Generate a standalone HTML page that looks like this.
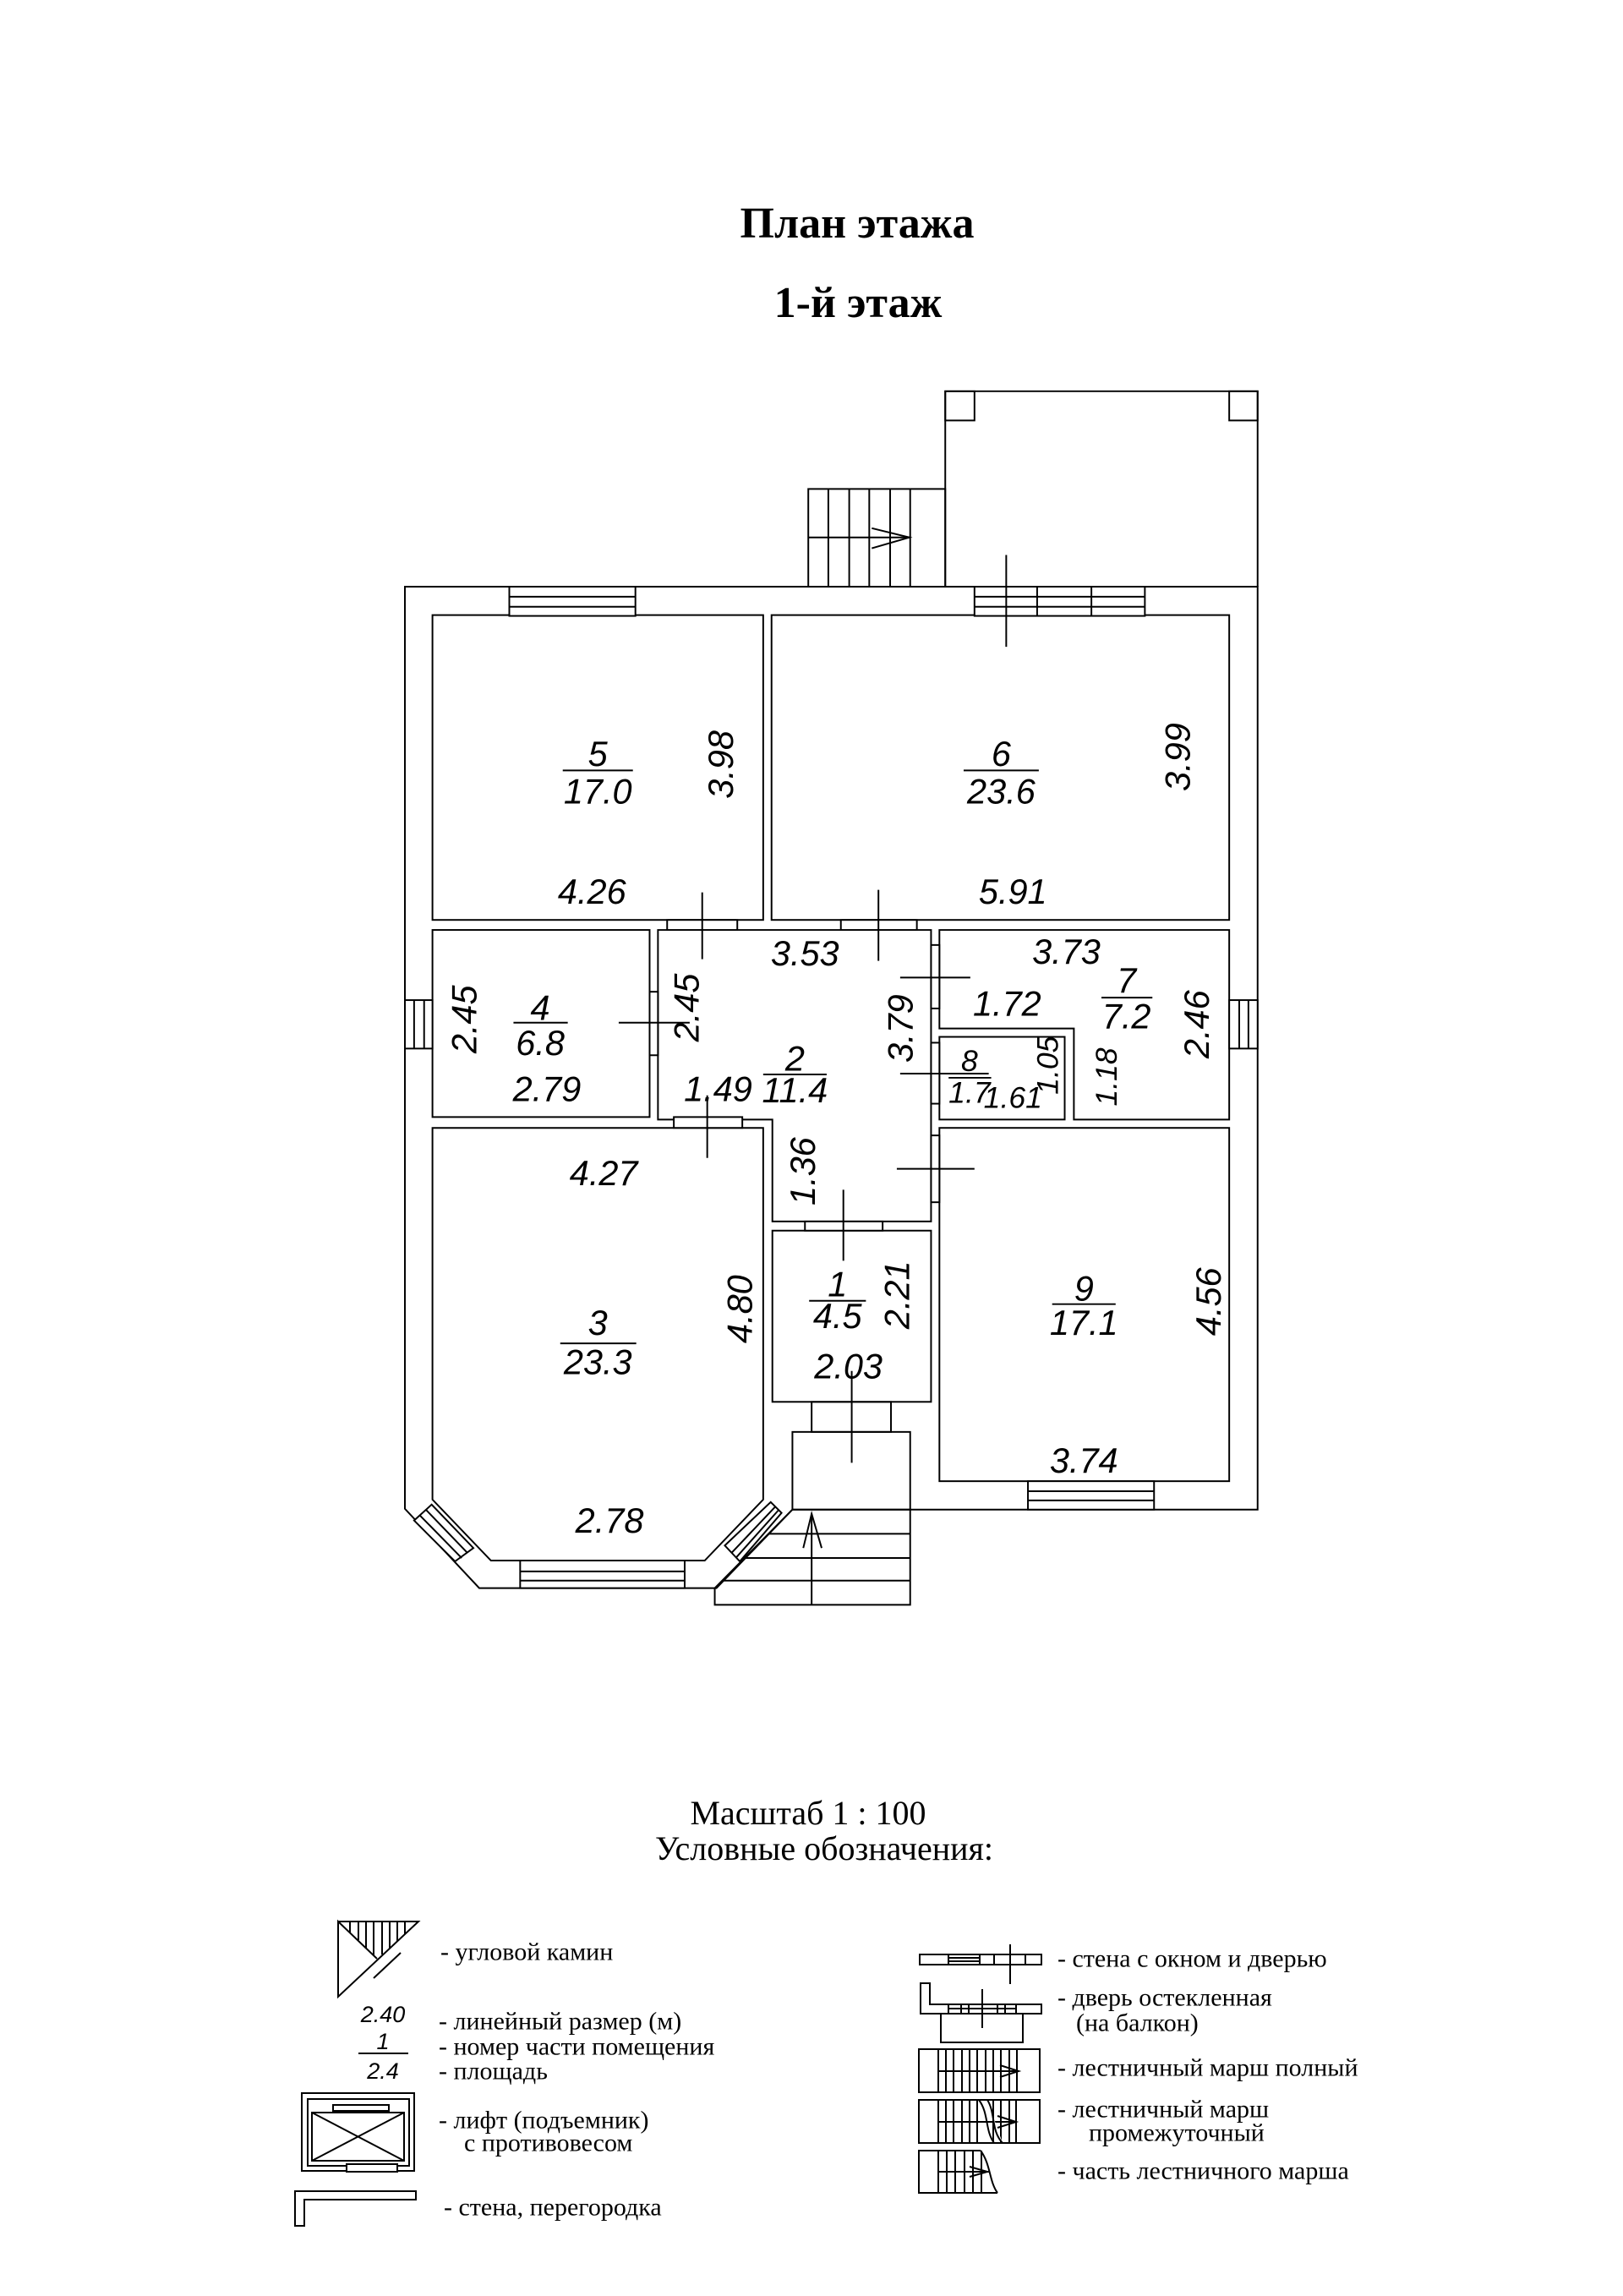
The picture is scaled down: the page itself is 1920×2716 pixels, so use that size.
<!DOCTYPE html>
<html><head><meta charset="utf-8"><style>
html,body{margin:0;padding:0;background:#fff}
svg{display:block}
.d{font-family:"Liberation Sans",sans-serif;font-style:italic;font-size:42px;fill:#000}
.s{font-family:"Liberation Sans",sans-serif;font-style:italic;font-size:27px;fill:#000}
.l{font-family:"Liberation Serif",serif;font-size:30px;fill:#000}
</style></head><body>
<svg width="1920" height="2716" viewBox="0 0 1920 2716" xmlns="http://www.w3.org/2000/svg">
<rect width="1920" height="2716" fill="#fff"/>
<g font-family="Liberation Serif, serif" font-weight="bold" font-size="52" text-anchor="middle">
<text x="1014" y="281">План этажа</text>
<text x="1015" y="375">1-й этаж</text>
</g>
<g transform="translate(479,694) scale(0.988 0.988) translate(-479,-694)">
<g fill="none" stroke="#000" stroke-width="2">
<polyline points="1126,694 1126,460 1500,460 1500,694"/>
<rect x="1126" y="460" width="35" height="35"/>
<rect x="1466" y="460" width="34" height="35"/>
<rect x="962" y="577" width="164" height="117"/>
<line x1="986" y1="577" x2="986" y2="694"/><line x1="1011" y1="577" x2="1011" y2="694"/>
<line x1="1035" y1="577" x2="1035" y2="694"/><line x1="1060" y1="577" x2="1060" y2="694"/>
<line x1="1084" y1="577" x2="1084" y2="694"/>
<line x1="962" y1="635" x2="1084" y2="635"/>
<polyline points="1038,624 1083,635 1038,648"/>
<polyline points="1084,1799 1500,1799 1500,694 479,694 479,1798 568,1893 852,1893 943,1799"/>
<rect x="512" y="728" width="396" height="365"/>
<rect x="918" y="728" width="548" height="365"/>
<rect x="512" y="1105" width="260" height="224"/>
<polygon points="782,1105 1109,1105 1109,1454 919,1454 919,1332 782,1332"/>
<polygon points="1119,1105 1466,1105 1466,1332 1280,1332 1280,1223 1119,1223"/>
<rect x="1119" y="1233" width="150" height="99"/>
<rect x="1119" y="1342" width="347" height="423"/>
<rect x="919" y="1465" width="190" height="205"/>
<polygon points="512,1342 908,1342 908,1787 838,1860 582,1860 512,1787"/>
<rect x="966" y="1670" width="95" height="36"/>
<rect x="943" y="1706" width="141" height="93"/>
<polygon points="943,1799 1084,1799 1084,1913 850,1913 850,1893"/>
<line x1="915" y1="1828" x2="1084" y2="1828"/>
<line x1="887" y1="1857" x2="1084" y2="1857"/>
<line x1="861" y1="1884" x2="1084" y2="1884"/>
<line x1="966" y1="1804" x2="966" y2="1913"/>
<polyline points="956,1845 966,1804 978,1845"/>
<line x1="1014" y1="1633" x2="1014" y2="1743"/>
</g>
<g fill="#fff" stroke="#000" stroke-width="2">
<rect x="604" y="694" width="151" height="35"/>
<rect x="1161" y="694" width="204" height="35"/>
<rect x="479" y="1189" width="33" height="58"/>
<rect x="1466" y="1189" width="34" height="58"/>
<rect x="1225" y="1765" width="151" height="34"/>
<rect x="617" y="1860" width="197" height="33"/>
<polygon points="490,1812 511,1793 561,1845 539,1861"/>
<polygon points="862,1842 917,1790 930,1803 880,1861"/>
<rect x="793" y="1093" width="84" height="12"/>
<rect x="1001" y="1093" width="91" height="12"/>
<rect x="772" y="1179" width="10" height="76"/>
<rect x="801" y="1329" width="82" height="13"/>
<rect x="958" y="1454" width="93" height="11"/>
<rect x="1109" y="1123" width="10" height="76"/>
<rect x="1109" y="1240" width="10" height="73"/>
<rect x="1109" y="1351" width="10" height="80"/>
</g>
<g fill="none" stroke="#000" stroke-width="2">
<line x1="604" y1="706" x2="755" y2="706"/><line x1="604" y1="718" x2="755" y2="718"/>
<line x1="1161" y1="706" x2="1365" y2="706"/><line x1="1161" y1="718" x2="1365" y2="718"/>
<line x1="1236" y1="694" x2="1236" y2="729"/><line x1="1301" y1="694" x2="1301" y2="729"/>
<line x1="1199" y1="656" x2="1199" y2="766"/>
<line x1="490" y1="1189" x2="490" y2="1247"/><line x1="502" y1="1189" x2="502" y2="1247"/>
<line x1="1478" y1="1189" x2="1478" y2="1247"/><line x1="1489" y1="1189" x2="1489" y2="1247"/>
<line x1="1225" y1="1777" x2="1376" y2="1777"/><line x1="1225" y1="1788" x2="1376" y2="1788"/>
<line x1="617" y1="1873" x2="814" y2="1873"/><line x1="617" y1="1884" x2="814" y2="1884"/>
<line x1="497" y1="1806" x2="547" y2="1857"/><line x1="504" y1="1799" x2="554" y2="1851"/>
<line x1="870" y1="1851" x2="922" y2="1796"/><line x1="876" y1="1856" x2="926" y2="1800"/>
<line x1="835" y1="1060" x2="835" y2="1140"/>
<line x1="1046" y1="1057" x2="1046" y2="1142"/>
<line x1="735" y1="1216" x2="820" y2="1216"/>
<line x1="841" y1="1303" x2="841" y2="1378"/>
<line x1="1004" y1="1416" x2="1004" y2="1501"/>
<line x1="1072" y1="1162" x2="1156" y2="1162"/>
<line x1="1072" y1="1277" x2="1178" y2="1277"/>
<line x1="1068" y1="1391" x2="1161" y2="1391"/>
<line x1="668" y1="914" x2="752" y2="914"/>
<line x1="1148" y1="914" x2="1238" y2="914"/>
<line x1="609" y1="1216" x2="674" y2="1216"/>
<line x1="908" y1="1278" x2="984" y2="1278"/>
<line x1="1313" y1="1186" x2="1374" y2="1186"/>
<line x1="1130" y1="1282" x2="1181" y2="1282"/>
<line x1="665" y1="1600" x2="756" y2="1600"/>
<line x1="963" y1="1549" x2="1031" y2="1549"/>
<line x1="1254" y1="1553" x2="1330" y2="1553"/>
</g>
<g class="d" text-anchor="middle" dominant-baseline="central">
<text x="710" y="894">5</text><text x="710" y="939">17.0</text>
<text x="1193" y="894">6</text><text x="1193" y="939">23.6</text>
<text x="703" y="1059">4.26</text><text x="1207" y="1059">5.91</text>
<text x="958" y="1133">3.53</text>
<text x="641" y="1198">4</text><text x="641" y="1240">6.8</text>
<text x="649" y="1295">2.79</text>
<text x="946" y="1259">2</text><text x="946" y="1297">11.4</text>
<text x="854" y="1295">1.49</text>
<text x="1271" y="1131">3.73</text>
<text x="1200" y="1193">1.72</text>
<text x="1343" y="1165">7</text><text x="1343" y="1208">7.2</text>
<text x="1155" y="1262" font-size="36">8</text><text x="1155" y="1300" font-size="36">1.7</text>
<text x="1207" y="1306" font-size="36">1.61</text>
<text x="717" y="1396">4.27</text>
<text x="710" y="1575">3</text><text x="710" y="1622">23.3</text>
<text x="997" y="1529">1</text><text x="997" y="1567">4.5</text>
<text x="1010" y="1627">2.03</text>
<text x="1292" y="1534">9</text><text x="1292" y="1575">17.1</text>
<text x="1292" y="1740">3.74</text>
<text x="724" y="1812">2.78</text>
<text transform="rotate(-90 857 907)" x="857" y="907">3.98</text>
<text transform="rotate(-90 1404 898)" x="1404" y="898">3.99</text>
<text transform="rotate(-90 550 1212)" x="550" y="1212">2.45</text>
<text transform="rotate(-90 816 1198)" x="816" y="1198">2.45</text>
<text transform="rotate(-90 1072 1223)" x="1072" y="1223">3.79</text>
<text transform="rotate(-90 1427 1218)" x="1427" y="1218">2.46</text>
<text transform="rotate(-90 1249 1267)" x="1249" y="1267" font-size="36">1.05</text>
<text transform="rotate(-90 1319 1281)" x="1319" y="1281" font-size="36">1.18</text>
<text transform="rotate(-90 955 1394)" x="955" y="1394">1.36</text>
<text transform="rotate(-90 880 1559)" x="880" y="1559">4.80</text>
<text transform="rotate(-90 1068 1542)" x="1068" y="1542">2.21</text>
<text transform="rotate(-90 1441 1550)" x="1441" y="1550">4.56</text>
</g>
</g>
<g font-family="Liberation Serif, serif" font-size="40" text-anchor="middle">
<text x="956" y="2158">Масштаб 1 : 100</text>
<text x="975" y="2200">Условные обозначения:</text>
</g>
<g fill="none" stroke="#000" stroke-width="2">
<polyline points="400,2273 495,2273 400,2362 400,2273 446,2317"/>
<line x1="442" y1="2340" x2="474" y2="2310"/>
<line x1="414" y1="2273" x2="414" y2="2286"/><line x1="424" y1="2273" x2="424" y2="2295"/>
<line x1="433" y1="2273" x2="433" y2="2304"/><line x1="442" y1="2273" x2="442" y2="2313"/>
<line x1="452" y1="2273" x2="452" y2="2312"/><line x1="461" y1="2273" x2="461" y2="2304"/>
<line x1="470" y1="2273" x2="470" y2="2296"/><line x1="479" y1="2273" x2="479" y2="2288"/>
<line x1="424" y1="2429" x2="483" y2="2429"/>
<rect x="357" y="2476" width="133" height="92"/>
<rect x="364" y="2483" width="120" height="79"/>
<rect x="394" y="2490" width="66" height="7"/>
<rect x="369" y="2499" width="109" height="57"/>
<line x1="369" y1="2499" x2="478" y2="2556"/><line x1="478" y1="2499" x2="369" y2="2556"/>
<rect x="410" y="2560" width="60" height="9" fill="#fff"/>
<polygon points="349,2592 492,2592 492,2602 360,2602 360,2633 349,2633"/>
<rect x="1088" y="2312" width="144" height="12"/>
<line x1="1122" y1="2312" x2="1122" y2="2324"/><line x1="1159" y1="2312" x2="1159" y2="2324"/>
<line x1="1122" y1="2316" x2="1159" y2="2316"/><line x1="1122" y1="2320" x2="1159" y2="2320"/>
<line x1="1176" y1="2312" x2="1176" y2="2324"/><line x1="1213" y1="2312" x2="1213" y2="2324"/>
<line x1="1195" y1="2300" x2="1195" y2="2347"/>
<polygon points="1089,2346 1100,2346 1100,2371 1232,2371 1232,2382 1089,2382"/>
<polyline points="1113,2382 1113,2416 1210,2416 1210,2382"/>
<rect x="1122" y="2371" width="15" height="11"/><rect x="1146" y="2371" width="34" height="11"/><rect x="1189" y="2371" width="13" height="11"/>
<line x1="1122" y1="2376" x2="1202" y2="2376"/>
<line x1="1162" y1="2353" x2="1162" y2="2399"/>
<rect x="1087" y="2424" width="143" height="51"/>
<line x1="1110" y1="2450" x2="1203" y2="2450"/>
<path d="M1110 2424V2475M1119 2424V2475M1128 2424V2475M1138 2424V2475M1147 2424V2475M1156 2424V2475M1166 2424V2475M1175 2424V2475M1184 2424V2475M1194 2424V2475M1203 2424V2475"/>
<polyline points="1183,2443 1205,2450 1183,2457"/>
<rect x="1087" y="2484" width="143" height="51"/>
<line x1="1110" y1="2510" x2="1202" y2="2510"/>
<path d="M1110 2484V2535M1119 2484V2535M1128 2484V2535M1138 2484V2535M1147 2484V2535M1156 2484V2535M1175 2484V2535M1184 2484V2535M1194 2484V2535M1202 2484V2535"/>
<path d="M1158 2484C1170 2500 1165 2520 1176 2535M1168 2484C1178 2500 1172 2520 1186 2535" fill="#fff"/>
<polyline points="1180,2503 1202,2510 1180,2517"/>
<polyline points="1160,2544 1087,2544 1087,2594 1180,2594"/>
<path d="M1160 2544C1172 2560 1170 2580 1180 2594"/>
<line x1="1110" y1="2569" x2="1170" y2="2569"/>
<path d="M1110 2544V2594M1120 2544V2594M1130 2544V2594M1141 2544V2594M1151 2544V2594M1161 2544V2594"/>
<polyline points="1147,2563 1168,2569 1147,2575"/>
</g>
<g class="s" text-anchor="middle" dominant-baseline="central">
<text x="453" y="2383">2.40</text>
<text x="453" y="2415">1</text>
<text x="453" y="2450">2.4</text>
</g>
<g class="l" dominant-baseline="central">
<text x="521" y="2309">- угловой камин</text>
<text x="519" y="2391">- линейный размер (м)</text>
<text x="519" y="2421">- номер части помещения</text>
<text x="519" y="2450">- площадь</text>
<text x="519" y="2508">- лифт (подъемник)</text>
<text x="549" y="2535">с противовесом</text>
<text x="525" y="2611">- стена, перегородка</text>
<text x="1251" y="2317">- стена с окном и дверью</text>
<text x="1251" y="2363">- дверь остекленная</text>
<text x="1273" y="2393">(на балкон)</text>
<text x="1251" y="2446">- лестничный марш полный</text>
<text x="1251" y="2495">- лестничный марш</text>
<text x="1288" y="2523">промежуточный</text>
<text x="1251" y="2568">- часть лестничного марша</text>
</g>
</svg>
</body></html>
